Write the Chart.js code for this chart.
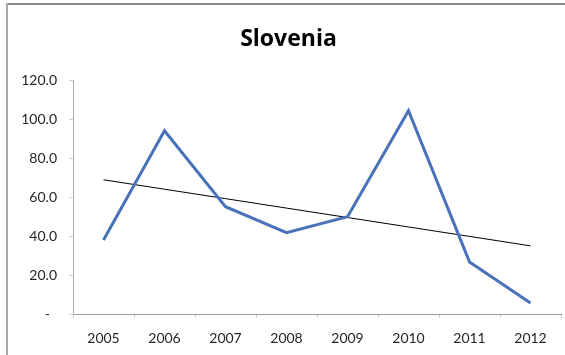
<!DOCTYPE html>
<html>
<head>
<meta charset="utf-8">
<script src="https://cdn.jsdelivr.net/npm/chart.js@4"></script>
<style>
  html, body { margin: 0; padding: 0; background: #fff; overflow: hidden; }
  #grafica { display: block; }
</style>
</head>
<body>
<canvas id="grafica" width="565" height="355"></canvas>
<script>
const years = ["2005", "2006", "2007", "2008", "2009", "2010", "2011", "2012"];
const values = [38.1, 94.3, 55.2, 41.8, 50.0, 104.6, 26.8, 5.7];
const yTicks = [0, 20, 40, 60, 80, 100, 120];

// linear trend line (least squares), like the spreadsheet one
function tendencia(data) {
  const n = data.length;
  const mx = (n - 1) / 2;
  const my = data.reduce((a, b) => a + b, 0) / n;
  let num = 0, den = 0;
  data.forEach((v, i) => {
    num += (i - mx) * (v - my);
    den += (i - mx) * (i - mx);
  });
  const m = num / den;
  return data.map((v, i) => my + m * (i - mx));
}

// frame of the chart box (top and left edges only)
const marco = {
  id: "marco",
  beforeDraw(chart) {
    const ctx = chart.ctx;
    ctx.save();
    ctx.fillStyle = "#8a8a8a";
    ctx.fillRect(6, 3, chart.width - 6, 2);
    ctx.fillStyle = "#a8a8a8";
    ctx.fillRect(6, 3, 2, chart.height - 3);
    ctx.restore();
  },
};

const labelFont = { family: "Lato", size: 14 };

new Chart(document.getElementById("grafica"), {
  type: "line",
  data: {
    labels: years,
    datasets: [
      {
        label: "Slovenia",
        data: values,
        borderColor: "#4a72b8",
        borderWidth: 3,
        pointRadius: 0,
        tension: 0,
      },
      {
        label: "Trend",
        data: tendencia(values),
        borderColor: "#000000",
        borderWidth: 1,
        pointRadius: 0,
        tension: 0,
      },
    ],
  },
  plugins: [marco],
  options: {
    responsive: false,
    animation: false,
    layout: { padding: { left: 16, right: 4, top: 0, bottom: 0 } },
    plugins: {
      legend: { display: false },
      tooltip: { enabled: false },
      title: {
        display: true,
        text: "Slovenia",
        color: "#000",
        font: { family: "Open Sans", size: 23, weight: "bold", lineHeight: 1.25 },
        padding: { top: 25, bottom: 27 },
      },
    },
    scales: {
      x: {
        offset: true,
        grid: {
          display: true,
          drawOnChartArea: false,
          offset: true,
          tickLength: 4,
          color: "#d0d0d0",
        },
        border: { color: "#9a9a9a", width: 1 },
        ticks: { color: "#262626", font: labelFont, padding: 12, maxRotation: 0 },
        afterFit: (s) => { s.height = 41; },
      },
      y: {
        min: 0,
        max: 120,
        afterBuildTicks: (s) => { s.ticks = yTicks.map(v => ({ value: v })); },
        grid: {
          display: true,
          drawOnChartArea: false,
          tickLength: 4,
          color: "#d0d0d0",
        },
        border: { color: "#b0b0b0", width: 1 },
        ticks: {
          color: "#262626",
          font: labelFont,
          padding: 12,
          callback: (v) => (v === 0 ? "-  " : v.toFixed(1)),
        },
        afterFit: (s) => { s.width = 57; },
      },
    },
  },
});
</script>
</body>
</html>
